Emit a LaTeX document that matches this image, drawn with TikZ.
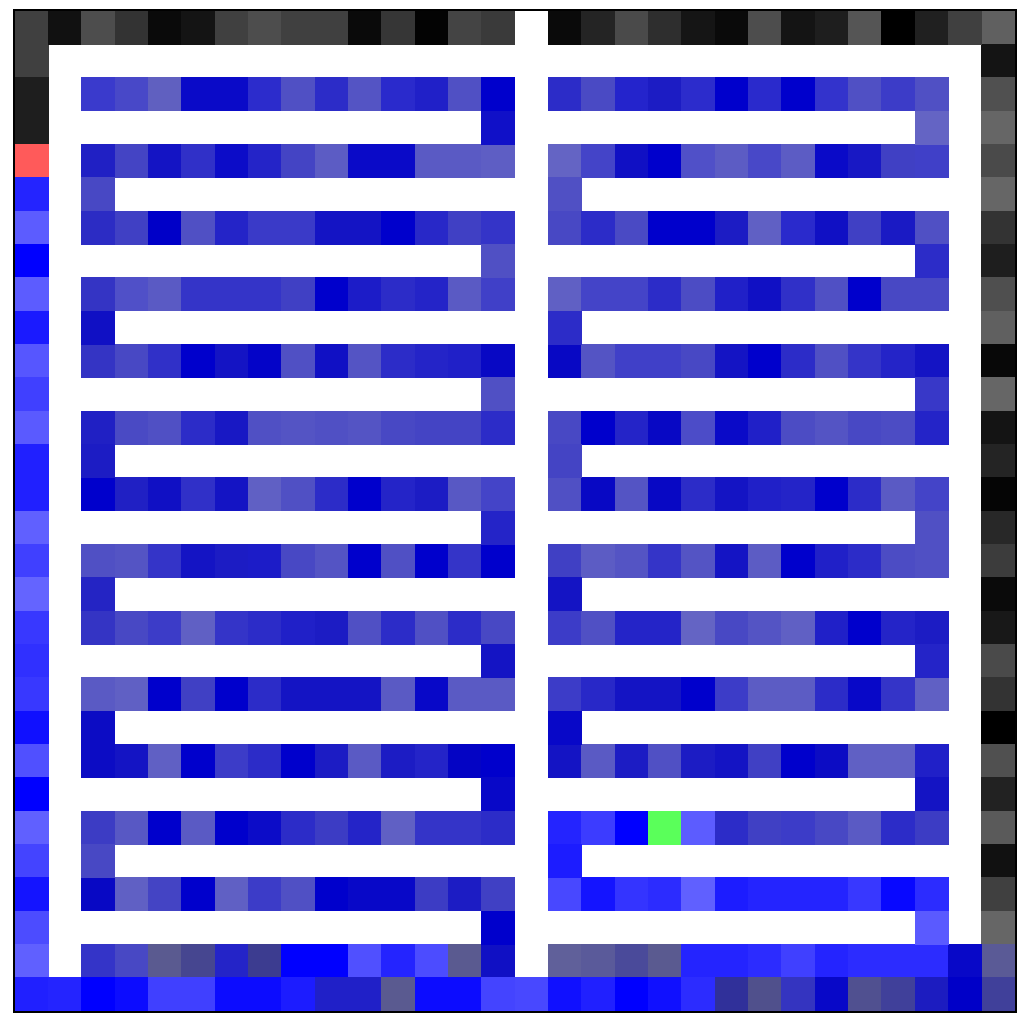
\documentclass[tikz,border=0pt]{standalone}
\newcommand\pxcell[3]{\definecolor{cc}{HTML}{#3}\fill[cc] ({15+33.33333*#2-0.3},{11+33.33333*#1-0.3}) rectangle ++(33.93333,33.93333);}
\newcommand\rowL[2]{\foreach \h [count=\k from 2] in {#2} {\pxcell{#1}{\k}{\h}}}
\newcommand\rowR[2]{\foreach \h [count=\k from 16] in {#2} {\pxcell{#1}{\k}{\h}}}
\begin{document}
\begin{tikzpicture}[x=1pt,y=-1pt]
\useasboundingbox (0,0) rectangle (1030,1022);
\fill[white] (0,0) rectangle (1030,1022);
% column 0
\foreach \h [count=\r from 0] in {404040,404040,1E1E1E,1E1E1E,FF5A5A,2424FF,5C5CFF,0000FF,5C5CFF,1A1AFF,5656FF,4040FF,5A5AFF,2020FF,2020FF,6060FF,4040FF,6464FF,3838FF,3030FF,3838FF,1010FF,5050FF,0000FF,6060FF,4444FF,1414FF,4C4CFF,6060FF,2020FF} {\pxcell{\r}{0}{\h}}
% column 29
\foreach \h [count=\r from 0] in {606060,141414,505050,666666,4A4A4A,666666,333333,1E1E1E,4F4F4F,606060,080808,666666,141414,242424,050505,282828,3C3C3C,0A0A0A,181818,4A4A4A,333333,000000,505050,222222,5A5A5A,111111,404040,666666,5A5A96,40409A} {\pxcell{\r}{29}{\h}}
% row 0
\foreach \h [count=\k from 1] in {111111,4D4D4D,333333,0A0A0A,141414,404040,4D4D4D,404040,404040,0A0A0A,363636,030303,444444,3A3A3A} {\pxcell{0}{\k}{\h}}
\rowR{0}{0A0A0A,242424,4A4A4A,2E2E2E,151515,0A0A0A,4D4D4D,141414,1E1E1E,555555,000000,202020,404040}
% full rows
\rowL{2}{3A3ACC,4848C8,6060C0,0A0AC8,0A0AC8,2C2CCC,5050C4,2C2CC8,5454C4,2A2ACC,2020C8,5050C4,0000CC}
\rowR{2}{2C2CC8,4A4AC4,2424CC,1C1CC4,2C2CCC,0000CC,2A2ACC,0000CC,3333CC,5050C4,3C3CC8,5050C4}
\rowL{4}{2020C4,4444C4,1414C4,3030C8,0C0CC8,2424C8,4444C4,5C5CC4,0A0AC8,0A0AC8,5A5AC4,5A5AC4,5E5EC4}
\rowR{4}{6464C4,4444C8,1010C4,0000CC,5050C8,5C5CC4,4848C8,5C5CC4,0A0AC8,1818C4,4040C4,4040C8}
\rowL{6}{2C2CC4,4040C4,0000C8,5050C4,2424C8,3A3AC8,3A3AC8,1414C4,1414C4,0000CC,2828C8,4040C4,3434C8}
\rowR{6}{4848C4,2C2CC8,4A4AC4,0000CC,0000CC,1C1CC4,6060C4,2A2ACC,1010C4,4040C4,1A1AC4,5050C4}
\rowL{8}{3434C4,5050C8,5A5AC4,3434C8,3434C8,3434C8,4040C4,0000CC,1C1CC8,2C2CC8,2424C8,5A5AC4,4040C8}
\rowR{8}{6060C4,4444C8,4444C8,2C2CC8,4C4CC4,2020C8,1010C4,3030C8,5050C4,0000CC,4848C4,4848C4}
\rowL{10}{3434C4,4848C4,3030C8,0000CC,1414C4,0404C8,5050C4,1010C4,5454C4,2C2CC8,2424C8,2020C8,0808C4}
\rowR{10}{0808C4,5454C4,4040C8,4040C8,4848C4,1414C4,0000CC,2C2CC8,5050C4,3434C8,2424C8,1414C4}
\rowL{12}{2020C4,4A4AC4,5050C4,2C2CC8,1818C4,5050C4,5454C4,5050C4,5454C4,4848C4,4444C4,4444C4,2C2CC8}
\rowR{12}{4848C4,0000CC,2424C8,0808C4,4C4CC8,0A0AC8,2020C8,4C4CC4,5454C4,4848C4,4C4CC4,2424C8}
\rowL{14}{0000CC,2020C4,1010C4,3030C8,1414C4,6060C4,5050C4,2C2CC8,0000CC,2424C8,1C1CC4,5858C4,4444C8}
\rowR{14}{5050C4,0808C4,5454C4,0808C4,2C2CC8,1414C4,2020C8,2424C8,0000CC,2C2CC8,5A5AC4,4444C8}
\rowL{16}{5050C4,5454C4,3434C8,1414C4,1C1CC4,1C1CC8,4848C4,5454C4,0000CC,5050C4,0000CC,3434C8,0000CC}
\rowR{16}{4040C4,5C5CC4,5454C4,3434C8,5454C4,1414C4,5C5CC4,0000CC,2020C8,2C2CC8,4C4CC4,5050C4}
\rowL{18}{3434C4,4848C4,3C3CC8,6060C4,3434C8,2C2CC8,2020C8,1C1CC4,5050C4,2C2CC8,5050C4,2C2CC8,4848C4}
\rowR{18}{3C3CC8,5050C4,2424C8,2424C8,6464C4,4848C4,5454C4,6060C4,2020C8,0000CC,2424C8,1C1CC4}
\rowL{20}{5A5AC4,6060C4,0000CC,4040C4,0000CC,2C2CC8,1414C4,1414C4,1414C4,5A5AC4,0808C8,5A5AC4,5A5AC4}
\rowR{20}{3C3CC8,2828C8,1414C4,1414C4,0000CC,3C3CC8,5C5CC4,5C5CC4,2C2CC8,0808C8,3434C8,6060C4}
\rowL{22}{0C0CC4,1414C4,6060C4,0000CC,3C3CC8,2C2CC8,0000CC,1C1CC4,5A5AC4,1C1CC4,2424C8,0404C4,0000CC}
\rowR{22}{1414C4,5A5AC4,1C1CC4,5050C4,1C1CC4,1414C4,4040C4,0000CC,0C0CC4,6060C4,6060C4,2020C8}
\rowL{24}{3C3CC4,5858C4,0000CC,5A5AC4,0000CC,0C0CC8,2C2CC8,3C3CC4,2424C8,6060C4,3434C8,3434C8,2C2CC8}
\rowR{24}{2424FF,3C3CFF,0000FF,5AFF5A,5C5CFF,2C2CC8,4040C4,3C3CC8,4848C4,5A5AC4,2C2CC8,3C3CC4}
\rowL{26}{0808C4,6060C4,4444C4,0000CC,6060C4,3C3CC8,5050C4,0000CC,0808C8,0808C8,3C3CC4,1C1CC4,4040C4}
\rowR{26}{4848FF,1414FF,3434FF,2C2CFF,6060FF,1C1CFF,2424FF,2424FF,2424FF,3838FF,0808FF,2C2CFF}
\rowL{28}{3434C8,4848C4,5A5A90,464690,2424C8,3C3C90,0000FF,0000FF,5050FF,2424FF,4C4CFF,5A5A90,1010C4}
\rowR{28}{60609A,5A5A9A,4A4A9A,5A5A90,2424FF,2424FF,2C2CFF,4040FF,2424FF,2C2CFF,2C2CFF,2C2CFF,0808C8}
% row 29
\foreach \h [count=\k from 1] in {2424FF,0000FF,0C0CFF,4040FF,4040FF,0C0CFF,0C0CFF,1C1CFF,2020C8,2020C8,5A5A90,0C0CFF,0C0CFF,4444FF,4848FF,1010FF,2020FF,0000FF,1010FF,2C2CFF,30309A,50508C,3434C0,0808C8,505090,40409A,1C1CC0,0000C8} {\pxcell{29}{\k}{\h}}
% single turn cells
\foreach \r/\c/\h in {3/14/1010C8,3/27/6464C4,5/2/4848C4,5/16/5050C4,7/14/5050C4,7/27/2C2CC8,9/2/1010C4,9/16/2C2CC8,11/14/5050C4,11/27/3838C8,13/2/1C1CC4,13/16/4444C4,15/14/2424C8,15/27/5050C4,17/2/2424C4,17/16/1414C4,19/14/1414C4,19/27/2424C8,21/2/0C0CC4,21/16/0808C8,23/14/0808C8,23/27/1414C4,25/2/4848C4,25/16/1C1CFF,27/14/0000CC,27/27/5A5AFF} {\pxcell{\r}{\c}{\h}}
% frame
\draw[line width=1.6pt] (14.2,10.2) rectangle (1016,1012);
\end{tikzpicture}
\end{document}
